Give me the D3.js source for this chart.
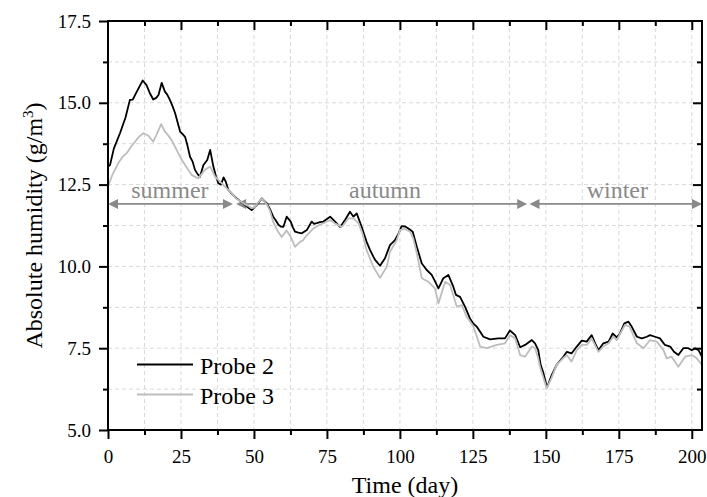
<!DOCTYPE html>
<html><head><meta charset="utf-8">
<script src="https://cdn.jsdelivr.net/npm/d3@7/dist/d3.min.js"></script>
</head><body style="margin:0;background:#fff"><svg id="c" width="707" height="497" style="display:block"></svg>
<script>
const probe2Days=[0,0.7,2,4.1,6,7.5,8.5,9.3,10.5,11.9,13.2,14.3,15.5,16.5,17.3,18.4,19.5,20.3,21.2,22.1,23,24.7,25.5,26.4,27.2,28.1,29,29.8,30.7,31.5,32.7,34,35,36.1,37,37.8,38.7,39.6,40.3,41.2,42.9,44.1,45.5,46.9,48,49.2,50.2,51,52.7,53.5,54.4,55.5,56.6,57.5,58.4,59.2,60.1,61.2,62.6,63.3,64.1,65.2,66.4,67.2,68.1,69.8,70.6,71.5,72.6,73.8,75,76.1,77.8,79.5,80.3,81.2,82.9,84.1,85.2,86.9,88.6,89.8,90.9,91.5,93.2,94.9,96.6,98.3,99.5,100.6,101.8,102.9,104.4,105.8,107.5,109.2,110.9,112,113.2,114.9,116.6,117.5,118.3,119.2,120.6,122.3,124,125.2,126.3,127.5,128.6,130.9,133.7,136,137.7,139.5,141.2,142.9,145.2,146.3,147.4,148.2,149.2,150.4,152,153.7,156,157.2,158.8,160.6,162.3,164,165.7,166.9,168,169.7,171.5,172.9,174.3,175.4,176.9,178.3,179.4,181.2,182.9,184.6,185.7,187.4,189.1,190.8,192.6,193.9,195.4,197.1,198.8,200,201.1,202.3,203.5];
const probe2Values=[13.05,13.1,13.6,14.07,14.55,15.09,15.1,15.24,15.45,15.68,15.54,15.3,15.1,15.15,15.24,15.61,15.34,15.25,15.09,14.9,14.68,14.12,14.05,13.96,13.7,13.35,13.2,12.95,12.82,12.74,13.1,13.25,13.56,13.05,12.75,12.54,12.5,12.72,12.6,12.34,12.18,12.08,11.98,11.88,11.8,11.72,11.8,11.88,12.08,12.0,11.93,11.75,11.52,11.4,11.27,11.22,11.21,11.52,11.37,11.2,11.06,11.03,11.01,11.06,11.11,11.37,11.3,11.32,11.35,11.37,11.45,11.52,11.37,11.21,11.3,11.42,11.67,11.52,11.62,11.21,10.75,10.5,10.3,10.2,10.02,10.25,10.65,10.8,11.0,11.23,11.22,11.16,11.06,10.6,10.09,9.89,9.74,9.55,9.33,9.64,9.74,9.55,9.38,9.13,9.07,8.77,8.41,8.25,8.16,8.0,7.85,7.77,7.8,7.8,8.04,7.9,7.53,7.6,7.75,7.65,7.44,7.0,6.73,6.3,6.68,6.99,7.24,7.39,7.34,7.55,7.73,7.7,7.9,7.65,7.44,7.65,7.7,7.95,7.83,7.95,8.26,8.31,8.16,7.85,7.8,7.85,7.9,7.85,7.8,7.6,7.55,7.39,7.29,7.5,7.5,7.44,7.5,7.44,7.24];
const probe3Days=[0,1.5,3.5,5,6.4,7.8,9.3,10.5,12.1,13.8,15.5,16.6,18.2,19.5,20.5,21.8,23.5,25,26.4,27.5,28.7,30.9,33.2,35,36.7,39,40.5,42.4,44.1,45.5,46.9,48,49.2,50.2,51,52.7,54.4,55.5,56.6,58,59.5,61.2,62.6,64.1,65.8,66.8,68.1,70.4,72,73.8,76.1,78,80.2,82.4,84.1,85.8,87.2,88.6,90.9,93.2,95.5,96.6,98.9,100,101.5,103.5,104.6,105.8,107.5,109.8,112,113.2,115.5,117.2,119.5,121.2,122.9,125.2,127.5,129.8,133.2,136,137.7,139.5,141.2,142.9,145.2,146.3,147.4,148,150.3,152,153.7,156,157.2,158.8,160.6,162.3,164,165.7,168,169.7,171.5,173.1,174.3,177.1,178.7,181.2,183.5,185.7,188,190.3,191.4,193.1,195.4,197.7,200,201.7,203.5];
const probe3Values=[12.44,12.8,13.15,13.35,13.46,13.65,13.81,13.95,14.07,14.0,13.81,14.02,14.35,14.12,14.02,13.86,13.56,13.3,13.1,12.95,12.79,12.69,12.95,13.05,12.74,12.54,12.4,12.23,12.06,11.98,11.9,11.85,11.78,11.8,11.9,12.08,11.9,11.7,11.36,11.1,10.9,11.1,10.9,10.6,10.75,10.8,10.95,11.16,11.25,11.32,11.42,11.3,11.21,11.47,11.47,11.32,11.0,10.5,9.99,9.65,9.99,10.45,10.8,11.11,11.15,11.06,10.85,10.4,9.64,9.53,9.33,8.87,9.53,9.43,8.77,8.82,8.46,8.16,7.55,7.5,7.6,7.65,7.9,7.8,7.29,7.24,7.55,7.5,7.19,6.93,6.27,6.6,6.99,7.2,7.29,7.09,7.44,7.6,7.6,7.8,7.39,7.55,7.65,7.85,7.75,8.21,8.16,7.65,7.5,7.75,7.7,7.44,7.19,7.24,6.93,7.24,7.29,7.19,6.99];
const seriesNames=["Probe 2","Probe 3"];
const seasonNames=["summer","autumn","winter"];
const seasonStart=[0,43.9,144.4];
const seasonEnd=[42.8,143.6,203.5];
const seasonLabelDay=[21.2,94.9,174.5];
const xTicks=[0,25,50,75,100,125,150,175,200];
const yTicks=[5.0,7.5,10.0,12.5,15.0,17.5];

const FONT="'Liberation Serif', 'Times New Roman', serif";
const svg=d3.select("#c");
const L=108,R=702,T=21,B=430;
const x=d3.scaleLinear().domain([0,203.5]).range([L,R]);
const y=d3.scaleLinear().domain([5,17.5]).range([B,T]);
const minorX=d3.range(0,203.5,12.5), minorY=d3.range(5,17.51,1.25);

// grid
const g=svg.append("g");
g.selectAll(".gx").data(minorX.filter(d=>d>0)).join("line")
 .attr("x1",d=>x(d)).attr("x2",d=>x(d)).attr("y1",T).attr("y2",B)
 .attr("stroke","#d9d9d9").attr("stroke-width",1).attr("stroke-dasharray","4,3");
g.selectAll(".gy").data(minorY.filter(d=>d>5&&d<17.5)).join("line")
 .attr("y1",d=>y(d)).attr("y2",d=>y(d)).attr("x1",L).attr("x2",R)
 .attr("stroke","#d9d9d9").attr("stroke-width",1).attr("stroke-dasharray","4,3");

svg.append("defs").append("clipPath").attr("id","clip").append("rect")
 .attr("x",L).attr("y",T).attr("width",R-L).attr("height",B-T);

// seasons
const gray="#8a8a8a";
const sg=svg.append("g");
const ay=y(11.91);
seasonNames.forEach((n,i)=>{
  const x0=x(seasonStart[i]), x1=x(seasonEnd[i]);
  sg.append("line").attr("x1",x0+6).attr("x2",x1-6).attr("y1",ay).attr("y2",ay)
    .attr("stroke",gray).attr("stroke-width",1.6);
  sg.append("path").attr("d",`M${x0},${ay}L${x0+10},${ay-5}L${x0+10},${ay+5}Z`).attr("fill",gray);
  sg.append("path").attr("d",`M${x1},${ay}L${x1-10},${ay-5}L${x1-10},${ay+5}Z`).attr("fill",gray);
  sg.append("text").attr("x",x(seasonLabelDay[i])).attr("y",y(12.1)).attr("text-anchor","middle")
    .attr("font-size",24).attr("fill",gray).text(n);
});

// lines
const line=d3.line().x(d=>x(d[0])).y(d=>y(d[1]));
const d2=probe2Days.map((d,i)=>[d,probe2Values[i]]);
const d3v=probe3Days.map((d,i)=>[d,probe3Values[i]]);
const lg=svg.append("g").attr("clip-path","url(#clip)");
lg.append("path").datum(d2).attr("d",line).attr("fill","none").attr("stroke","#000").attr("stroke-width",1.8).attr("stroke-linejoin","round");
lg.append("path").datum(d3v).attr("d",line).attr("fill","none").attr("stroke","#bdbdbd").attr("stroke-width",1.8).attr("stroke-linejoin","round");

// axes
const ax=svg.append("g");
ax.append("rect").attr("x",L).attr("y",T).attr("width",R-L).attr("height",B-T).attr("fill","none").attr("stroke","#000").attr("stroke-width",2);
const xb=d3.axisBottom(x).tickValues(xTicks).tickSize(9).tickFormat(d3.format("d"));
const xbm=d3.axisBottom(x).tickValues(minorX.filter(d=>!xTicks.includes(d))).tickSize(5).tickFormat("");
const yl=d3.axisLeft(y).tickValues(yTicks).tickSize(9).tickFormat(d3.format(".1f"));
const ylm=d3.axisLeft(y).tickValues(minorY.filter(d=>!yTicks.includes(d))).tickSize(5).tickFormat("");
function style(sel,fs){sel.attr("font-family",null).attr("font-size",null);sel.select(".domain").remove();sel.selectAll("line").attr("stroke","#000").attr("stroke-width",2);
 sel.selectAll("text").attr("font-size",fs).attr("fill","#000");}
const gxb=ax.append("g").attr("transform",`translate(0,${B})`).call(xb);style(gxb,19);
gxb.selectAll("text").attr("dy",null).attr("y",33);
const gxbm=ax.append("g").attr("transform",`translate(0,${B})`).call(xbm);style(gxbm,19);
const gyl=ax.append("g").attr("transform",`translate(${L},0)`).call(yl);style(gyl,19);
gyl.selectAll("text").attr("x",-17);
const gylm=ax.append("g").attr("transform",`translate(${L},0)`).call(ylm);style(gylm,19);
// top ticks (pointing into plot)
const xt=d3.axisBottom(x).tickValues(xTicks.filter(d=>d>0)).tickSize(9).tickFormat("");
const xtm=d3.axisBottom(x).tickValues(minorX.filter(d=>!xTicks.includes(d))).tickSize(5).tickFormat("");
style(ax.append("g").attr("transform",`translate(0,${T})`).call(xt),19);
style(ax.append("g").attr("transform",`translate(0,${T})`).call(xtm),19);
const yr=d3.axisLeft(y).tickValues(yTicks.filter(d=>d>5&&d<17.5)).tickSize(9).tickFormat("");
const yrm=d3.axisLeft(y).tickValues(minorY.filter(d=>!yTicks.includes(d))).tickSize(5).tickFormat("");
style(ax.append("g").attr("transform",`translate(${R},0)`).call(yr),19);
style(ax.append("g").attr("transform",`translate(${R},0)`).call(yrm),19);

// titles
svg.append("text").attr("x",(L+R)/2).attr("y",493).attr("text-anchor","middle").attr("font-size",24).text("Time (day)");
const yt=svg.append("text").attr("transform",`translate(42,${(T+B)/2}) rotate(-90)`).attr("text-anchor","middle").attr("font-size",24);
yt.append("tspan").text("Absolute humidity (g/m");
yt.append("tspan").attr("font-size",15).attr("dy",-9).text("3");
yt.append("tspan").attr("dy",9).text(")");

// legend
const legY=[364.5,394.5], legCol=["#000","#bdbdbd"];
seriesNames.forEach((n,i)=>{
  svg.append("line").attr("x1",137).attr("x2",193).attr("y1",legY[i]).attr("y2",legY[i]).attr("stroke",legCol[i]).attr("stroke-width",1.8);
  svg.append("text").attr("x",200).attr("y",legY[i]+9).attr("font-size",24).text(n);
});
svg.selectAll("text").style("font-family",FONT);
</script></body></html>
